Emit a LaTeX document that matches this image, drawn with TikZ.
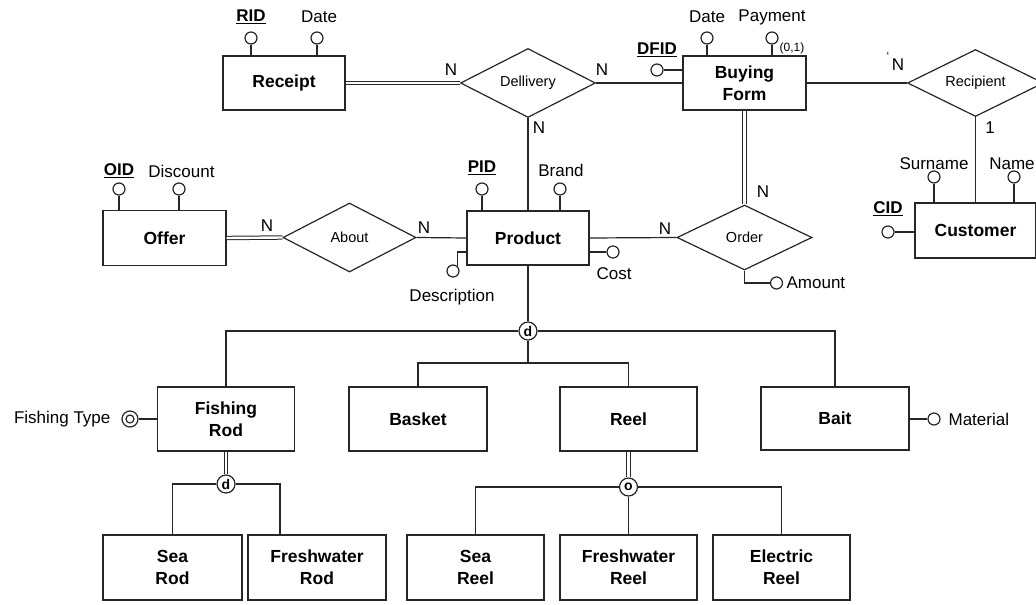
\documentclass[tikz,border=0pt]{standalone}
\usepackage{fontspec}
\setmainfont{Liberation Sans}
\usetikzlibrary{shapes.geometric}
\newcommand\entf{\fontsize{17.5}{22}\selectfont\bfseries}
\newcommand\lblf{\fontsize{17}{20}\selectfont}
\newcommand\relf{\fontsize{14.5}{17}\selectfont}
\newcommand\smf{\fontsize{12}{14}\selectfont}
\newcommand\isaf{\fontsize{14}{16}\selectfont\bfseries}
\begin{document}
\begin{tikzpicture}[x=1pt,y=-1pt,
  line width=1.2pt, draw={black!85},
  ent/.style={draw, rectangle, font=\entf, align=center, inner sep=0pt, fill=white},
  rel/.style={draw, diamond, aspect=2, inner sep=0pt, font=\relf, fill=white},
  attr/.style={draw, circle, minimum size=12pt, inner sep=0pt, fill=white},
  isa/.style={draw, circle, minimum size=18pt, inner sep=0pt, font=\isaf, fill=white},
  lbl/.style={font=\lblf, inner sep=0pt},
  sml/.style={font=\smf, inner sep=0pt},
  dbl/.style={double=white, double distance=2.4pt, line width=1pt}]
\useasboundingbox (0,0) rectangle (1036,605);
\clip (0,0) rectangle (1036,605);

% ---------- entities ----------
\node[ent, minimum width=122pt, minimum height=54pt] (receipt) at (284,83) {Receipt};
\node[ent, minimum width=123pt, minimum height=54pt] (buying) at (744.5,83) {Buying\\Form};
\node[ent, minimum width=123pt, minimum height=55pt] (offer) at (164.5,238) {Offer};
\node[ent, minimum width=122pt, minimum height=54pt] (product) at (528,238) {Product};
\node[ent, minimum width=121pt, minimum height=55pt] (customer) at (975.5,230.5) {Customer};
\node[ent, minimum width=137pt, minimum height=64pt] (fishrod) at (226,419) {Fishing\\Rod};
\node[ent, minimum width=138pt, minimum height=64pt] (basket) at (418,419) {Basket};
\node[ent, minimum width=137pt, minimum height=64pt] (reel) at (628.5,419) {Reel};
\node[ent, minimum width=148pt, minimum height=63pt] (bait) at (835,418.5) {Bait};
\node[ent, minimum width=139pt, minimum height=65pt] (searod) at (172.5,567.5) {Sea\\Rod};
\node[ent, minimum width=138pt, minimum height=65pt] (fwrod) at (317,567.5) {Freshwater\\Rod};
\node[ent, minimum width=137pt, minimum height=65pt] (seareel) at (475.5,567.5) {Sea\\Reel};
\node[ent, minimum width=137pt, minimum height=65pt] (fwreel) at (628.5,567.5) {Freshwater\\Reel};
\node[ent, minimum width=137pt, minimum height=65pt] (elreel) at (781.5,567.5) {Electric\\Reel};

% ---------- relationships ----------
\node[rel, minimum width=135pt, minimum height=69pt] (deliv) at (528,83) {Dellivery};
\node[rel, minimum width=136pt, minimum height=67pt] (recip) at (975.5,83) {Recipient};
\node[rel, minimum width=133pt, minimum height=69pt] (about) at (349.5,237.5) {About};
\node[rel, minimum width=135pt, minimum height=65pt] (order) at (744.5,237.5) {Order};

% ---------- relationship connectors ----------
\draw[dbl] (receipt.east) -- (deliv.west);
\draw (deliv.east) -- (buying.west);
\draw (deliv.south) -- (product.north);
\draw (buying.east) -- (recip.west);
\draw (recip.south) -- (customer.north);
\draw[dbl] (buying.south) -- (order.north);
\draw (product.east) -- (order.west);
\draw[dbl] (offer.east) -- (about.west);
\draw (about.east) -- (product.west);

\node[lbl] (n1) at (451,70) {N};
\node[lbl] (n2) at (602,70) {N};
\node[lbl] (n3) at (539,128) {N};
\node[lbl] (n4) at (898,65) {N};
\node[sml] (tick) at (888,56) {`};
\node[lbl] (one) at (990,128) {1};
\node[lbl] (n5) at (763,192) {N};
\node[lbl] (n6) at (665,229) {N};
\node[lbl] (n7) at (267,226) {N};
\node[lbl] (n8) at (424,228) {N};

% ---------- hierarchy ----------
\node[isa] (d1) at (528,331) {d};
\coordinate (j1) at (528,363);
\draw (product.south) -- (d1.north);
\draw (d1.west) -| (fishrod.north);
\draw (d1.east) -| (bait.north);
\draw (d1.south) -- (j1);
\draw (j1) -| (basket.north);
\draw (j1) -| (reel.north);

\node[isa] (d2) at (226,484) {d};
\draw[dbl] (fishrod.south) -- (d2.north);
\draw (d2.west) -| (searod.north);
\draw (d2.east) -| ([xshift=-37pt]fwrod.north);

\node[isa] (o1) at (628.5,487) {o};
\draw[dbl] (reel.south) -- (o1.north);
\draw (o1.west) -| (seareel.north);
\draw (o1.east) -| (elreel.north);
\draw (o1.south) -- (fwreel.north);

% ---------- attributes ----------
% Receipt
\node[attr] (rid) at (251,38) {};
\draw (rid.south) -- (rid.south |- receipt.north);
\node[lbl] (ridl) at (251,17) {\underline{\textbf{RID}}};
\node[attr] (rdate) at (317,38) {};
\draw (rdate.south) -- (rdate.south |- receipt.north);
\node[lbl] (rdatel) at (319,17) {Date};

% Buying Form
\node[attr] (bdate) at (707,38) {};
\draw (bdate.south) -- (bdate.south |- buying.north);
\node[lbl] (bdatel) at (707,17) {Date};
\node[attr] (pay) at (772,38) {};
\draw (pay.south) -- (pay.south |- buying.north);
\node[lbl] (payl) at (772,17) {Payment};
\node[sml] (payc) at (792,48) {(0,1)};
\node[attr] (dfid) at (657,70) {};
\draw (dfid.east) -- (dfid.east -| buying.west);
\node[lbl] (dfidl) at (657,50) {\underline{\textbf{DFID}}};

% Customer
\node[attr] (surn) at (934,177) {};
\draw (surn.south) -- (surn.south |- customer.north);
\node[lbl] (surnl) at (934,164) {Surname};
\node[attr] (name) at (1014,177) {};
\draw (name.south) -- (name.south |- customer.north);
\node[lbl] (namel) at (1012,164) {Name};
\node[attr] (cid) at (888,232) {};
\draw (cid.east) -- (cid.east -| customer.west);
\node[lbl] (cidl) at (888,209) {\underline{\textbf{CID}}};

% Offer
\node[attr] (oid) at (119,189) {};
\draw (oid.south) -- (oid.south |- offer.north);
\node[lbl] (oidl) at (119,171) {\underline{\textbf{OID}}};
\node[attr] (disc) at (179,189) {};
\draw (disc.south) -- (disc.south |- offer.north);
\node[lbl] (discl) at (181.5,171) {Discount};

% Product
\node[attr] (pid) at (482,189) {};
\draw (pid.south) -- (pid.south |- product.north);
\node[lbl] (pidl) at (482,168) {\underline{\textbf{PID}}};
\node[attr] (brand) at (560,189) {};
\draw (brand.south) -- (brand.south |- product.north);
\node[lbl] (brandl) at (561,170) {Brand};
\node[attr] (cost) at (613,252) {};
\draw (cost.west) -- (cost.west -| product.east);
\node[lbl] (costl) at (614,274) {Cost};
\node[attr] (desc) at (453,271) {};
\draw ([yshift=-14pt]product.west) -| (desc.north east);
\node[lbl] (descl) at (452,297) {Description};

% Order
\node[attr] (amt) at (776.5,283) {};
\draw (order.south) |- (amt.west);
\node[lbl, anchor=west] (amtl) at (786,283) {Amount};

% Fishing Rod
\node[draw, circle, minimum size=16pt, inner sep=0pt, fill=white] (ftype) at (130,419) {};
\draw (ftype.center) circle (4pt);
\draw (ftype.east) -- (ftype.east -| fishrod.west);
\node[lbl, anchor=east] (ftypel) at (111,419) {Fishing Type};

% Bait
\node[attr] (mat) at (934,419) {};
\draw (mat.west) -- (mat.west -| bait.east);
\node[lbl, anchor=west] (matl) at (948,419) {Material};
\end{tikzpicture}
\end{document}
